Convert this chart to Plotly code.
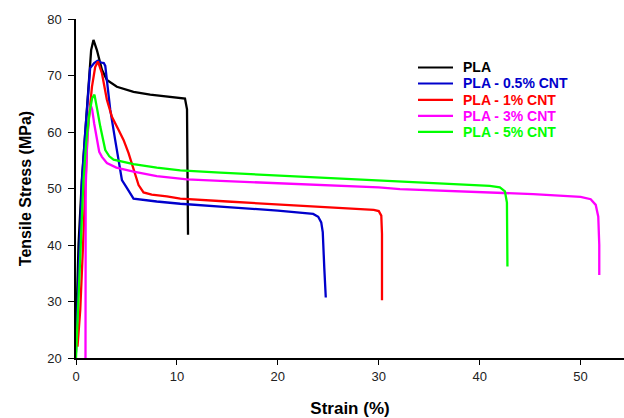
import plotly.graph_objects as go

# Stress-strain curves of PLA and PLA/CNT nanocomposites
strain_pla = [0.0, 0.25, 0.58, 0.91, 1.25, 1.5, 1.73, 2.07, 2.57, 3.06, 4.05, 5.7, 7.35, 9.0, 10.8, 11.0, 11.05, 11.1]
stress_pla = [24.0, 40.0, 51.5, 60.3, 69.0, 74.5, 76.3, 74.5, 71.0, 69.2, 68.0, 67.1, 66.6, 66.3, 65.9, 64.0, 55.0, 41.8]

strain_05 = [0.0, 0.3, 0.58, 0.91, 1.15, 1.4, 1.8, 2.13, 2.5, 2.75, 2.9, 3.39, 3.88, 4.21, 4.55, 5.04, 5.7, 8.0,
             10.33, 15.0, 20.0, 23.5, 24.0, 24.3, 24.45, 24.6, 24.75]
stress_05 = [21.0, 37.0, 51.0, 59.8, 66.0, 71.3, 72.2, 72.6, 72.3, 72.2, 71.7, 64.0, 58.6, 55.1, 51.5, 50.1, 48.2, 47.7,
             47.3, 46.7, 46.1, 45.5, 45.0, 44.0, 42.3, 36.0, 30.7]

strain_1 = [0.15, 0.42, 0.7, 0.91, 1.14, 1.58, 1.9, 2.17, 2.57, 3.06, 3.56, 4.21, 4.71, 5.2, 5.7, 6.2, 6.69, 7.5, 9.0,
            10.33, 15.0, 20.0, 25.0, 29.5, 30.0, 30.25, 30.32, 30.32]
stress_1 = [22.0, 28.5, 40.0, 50.3, 59.8, 68.0, 71.5, 72.5, 70.4, 65.7, 62.7, 60.4, 58.6, 56.3, 53.3, 50.6, 49.3, 48.9, 48.6,
            48.2, 47.7, 47.2, 46.7, 46.2, 46.0, 45.2, 42.0, 30.2]

strain_3 = [0.94, 0.96, 1.1, 1.3, 1.45, 1.6, 1.8, 2.07, 2.3, 2.57, 3.06, 4.0, 5.7, 8.0, 11.0, 14.3, 20.0, 30.0, 32.1,
            40.0, 45.3, 50.0, 51.0, 51.5, 51.75, 51.85, 51.85]
stress_3 = [20.0, 50.0, 58.0, 63.0, 64.8, 64.0, 61.5, 58.6, 56.5, 55.6, 54.5, 53.7, 53.0, 52.2, 51.6, 51.35, 50.95, 50.2, 49.9,
            49.4, 49.0, 48.5, 48.1, 47.1, 45.0, 40.0, 34.7]

strain_5 = [0.0, 0.25, 0.49, 0.74, 1.0, 1.3, 1.6, 1.83, 2.1, 2.4, 2.9, 3.3, 3.72, 5.7, 8.0, 10.33, 14.3, 20.0, 30.0,
            39.7, 41.0, 42.0, 42.5, 42.7, 42.75]
stress_5 = [20.0, 30.0, 40.0, 51.5, 58.0, 63.0, 66.0, 66.6, 64.0, 61.0, 56.8, 55.7, 55.1, 54.3, 53.7, 53.2, 52.8, 52.3, 51.4,
            50.6, 50.45, 50.2, 49.5, 47.5, 36.2]

series_names = ["PLA", "PLA - 0.5% CNT", "PLA - 1% CNT", "PLA - 3% CNT", "PLA - 5% CNT"]
series_colors = ["#000000", "#0000CC", "#FF0000", "#FF00FF", "#00FF00"]
series_x = [strain_pla, strain_05, strain_1, strain_3, strain_5]
series_y = [stress_pla, stress_05, stress_1, stress_3, stress_5]

x_ticks = [0, 10, 20, 30, 40, 50]
y_ticks = [20, 30, 40, 50, 60, 70, 80]

FONT = "Arial, Liberation Sans, sans-serif"
W, H = 624, 418
M_L, M_R, M_T, M_B = 76, 0, 19, 60
PLOT_W, PLOT_H = W - M_L - M_R, H - M_T - M_B


def px_to_paper_x(px):
    return (px - M_L) / PLOT_W


def px_to_paper_y(py):
    return (H - M_B - py) / PLOT_H


fig = go.Figure()
for name, color, xs, ys in zip(series_names, series_colors, series_x, series_y):
    fig.add_trace(go.Scatter(
        x=xs, y=ys, mode="lines", name=name, showlegend=False,
        line=dict(color=color, width=2.3),
    ))

# Legend key drawn as short line samples with bold coloured labels
legend_rows_px = [67.5, 83.5, 99.8, 115.8, 131.8]
for name, color, row in zip(series_names, series_colors, legend_rows_px):
    yp = px_to_paper_y(row)
    fig.add_shape(type="line", xref="paper", yref="paper",
                  x0=px_to_paper_x(418), x1=px_to_paper_x(453), y0=yp, y1=yp,
                  line=dict(color=color, width=2.2))
    fig.add_annotation(xref="paper", yref="paper", x=px_to_paper_x(461), y=yp,
                       xanchor="left", yanchor="middle", showarrow=False,
                       text=f"<b>{name}</b>", font=dict(family=FONT, size=14, color=color))

fig.update_layout(
    width=W, height=H,
    margin=dict(l=M_L, r=M_R, t=M_T, b=M_B),
    paper_bgcolor="white", plot_bgcolor="white",
    font=dict(family=FONT, color="#222222"),
    showlegend=False,
    xaxis=dict(
        range=[0, 54.3], tickvals=x_ticks, ticktext=[str(v) for v in x_ticks],
        showgrid=False, zeroline=False, showline=True, linecolor="black", linewidth=1.5,
        ticks="outside", ticklen=5, tickwidth=1.2, tickcolor="black", ticklabelstandoff=1,
        tickfont=dict(size=13, family=FONT, color="#222222"),
        title=dict(text="<b>Strain (%)</b>", font=dict(size=17, family=FONT, color="black"), standoff=19),
    ),
    yaxis=dict(
        range=[20, 80], tickvals=y_ticks, ticktext=[str(v) for v in y_ticks],
        showgrid=False, zeroline=False, showline=True, linecolor="black", linewidth=1.5,
        ticks="outside", ticklen=6, tickwidth=1.2, tickcolor="black", ticklabelstandoff=4,
        tickfont=dict(size=13, family=FONT, color="#222222"),
        title=dict(text="<b>Tensile Stress (MPa)</b>", font=dict(size=16, family=FONT, color="black"), standoff=12),
    ),
)

fig.write_html("out.html")
